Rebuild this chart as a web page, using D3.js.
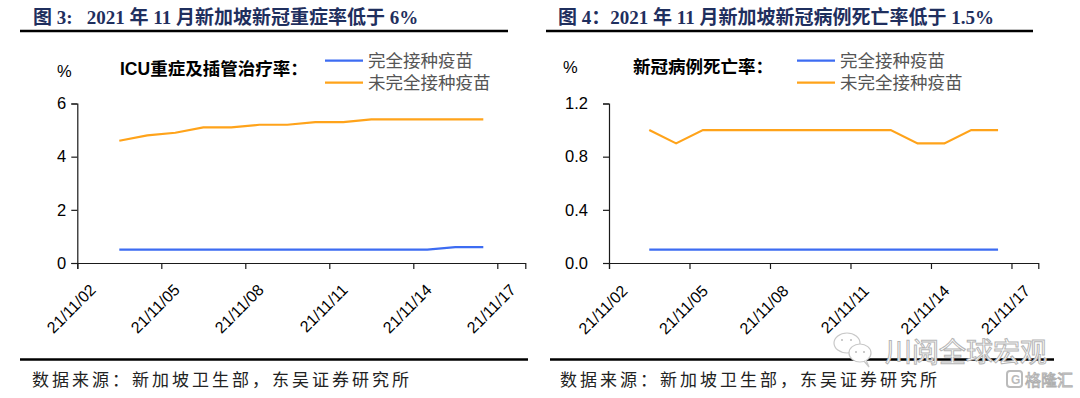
<!DOCTYPE html>
<html>
<head>
<meta charset="utf-8">
<script src="https://cdn.jsdelivr.net/npm/d3@7/dist/d3.min.js"></script>
<style>
  html, body { margin: 0; padding: 0; background: #fff; }
  svg { display: block; }
</style>
</head>
<body>
<div id="chart"></div>
<script>
// data
var tickLabels = ['21/11/02', '21/11/05', '21/11/08', '21/11/11', '21/11/14', '21/11/17'];
var obsDays = [3, 4, 5, 6, 7, 8, 9, 10, 11, 12, 13, 14, 15, 16];
var seriesNames = ['完全接种疫苗', '未完全接种疫苗'];
var icuVaccinated = [0.5, 0.5, 0.5, 0.5, 0.5, 0.5, 0.5, 0.5, 0.5, 0.5, 0.5, 0.5, 0.6, 0.6];
var icuUnvaccinated = [4.6, 4.8, 4.9, 5.1, 5.1, 5.2, 5.2, 5.3, 5.3, 5.4, 5.4, 5.4, 5.4, 5.4];
var deathVaccinated = [0.1, 0.1, 0.1, 0.1, 0.1, 0.1, 0.1, 0.1, 0.1, 0.1, 0.1, 0.1, 0.1, 0.1];
var deathUnvaccinated = [1.0, 0.9, 1.0, 1.0, 1.0, 1.0, 1.0, 1.0, 1.0, 1.0, 0.9, 0.9, 1.0, 1.0];
var icuTicks = [0, 2, 4, 6];
var deathTicks = [0, 0.4, 0.8, 1.2];

var width = 1080;
var height = 398;
var colors = ['#3d6cf2', '#ffa31a'];
var titleColor = '#1f2f5e';

var svg = d3.select('#chart').append('svg')
  .attr('width', width)
  .attr('height', height);

function drawPanel(o) {
  var g = svg.append('g');

  // title + rule
  g.append('text')
    .attr('x', o.titleX).attr('y', 24)
    .attr('fill', titleColor)
    .attr('font-family', '"Liberation Serif", "Noto Sans CJK SC", serif')
    .attr('font-weight', 'bold')
    .attr('font-size', '19px')
    .text(o.title);
  g.append('line')
    .attr('x1', o.ruleX[0]).attr('x2', o.ruleX[1])
    .attr('y1', 31).attr('y2', 31)
    .attr('stroke', '#000').attr('stroke-width', 2.5);

  // footer rule + source
  g.append('line')
    .attr('x1', o.footX[0]).attr('x2', o.footX[1])
    .attr('y1', 359.5).attr('y2', 359.5)
    .attr('stroke', '#000').attr('stroke-width', 2.5);
  g.append('text')
    .attr('x', o.footTextX).attr('y', 386)
    .attr('fill', '#222')
    .attr('font-family', '"Noto Sans CJK SC", sans-serif')
    .attr('font-size', '17px')
    .attr('letter-spacing', '3px')
    .text('数据来源：新加坡卫生部，东吴证券研究所');

  var x = d3.scaleLinear()
    .domain([2, 18])
    .range([o.x0, o.x1]);
  var y = d3.scaleLinear()
    .domain([0, o.yMax])
    .range([263, 103.5]);

  // y axis
  var yAxis = g.append('g')
    .attr('transform', 'translate(' + o.x0 + ',0)')
    .call(d3.axisLeft(y).tickValues(o.yTicks).tickFormat(d3.format(o.yFormat))
      .tickSizeOuter(0).tickSize(6).tickPadding(o.yPad));
  yAxis.selectAll('text')
    .attr('font-family', '"Liberation Sans", Arial, sans-serif')
    .attr('font-size', '16.5px')
    .attr('fill', '#000');

  // x axis, ticks at day boundaries
  var xAxis = g.append('g')
    .attr('transform', 'translate(0,' + y(0) + ')')
    .call(d3.axisBottom(x)
      .tickValues(tickLabels.map(function (s) { return +s.slice(6); }))
      .tickFormat(function (d) { return tickLabels.find(function (s) { return +s.slice(6) === d; }); })
      .tickSizeOuter(0).tickSize(6));
  xAxis.selectAll('text')
    .attr('font-family', '"Liberation Sans", Arial, sans-serif')
    .attr('font-size', '16px')
    .attr('fill', '#000')
    .attr('text-anchor', 'end')
    .attr('x', 0).attr('y', 0).attr('dy', 0)
    .attr('transform', 'translate(' + o.labDx + ',' + o.labDy + ') rotate(-45)');
  g.selectAll('.domain, .tick line').attr('stroke', '#1a1a1a').attr('stroke-width', 1.2);

  // lines, each point sits in the middle of its day slot
  var line = d3.line()
    .x(function (d, i) { return x(obsDays[i] + 0.5); })
    .y(function (d) { return y(d); });
  o.series.forEach(function (s, k) {
    g.append('path')
      .datum(s)
      .attr('fill', 'none')
      .attr('stroke', colors[k])
      .attr('stroke-width', 2.2)
      .attr('d', line);
  });

  // unit + subtitle
  g.append('text')
    .attr('x', o.pctX).attr('y', o.pctY)
    .attr('font-family', '"Liberation Sans", Arial, sans-serif')
    .attr('font-size', '16.5px')
    .attr('fill', '#000')
    .text('%');
  g.append('text')
    .attr('x', o.subX).attr('y', o.subY)
    .attr('font-family', '"Liberation Sans", "Noto Sans CJK SC", sans-serif')
    .attr('font-weight', 'bold')
    .attr('font-size', '17.5px')
    .attr('fill', '#000')
    .text(o.subtitle);

  // legend
  var leg = g.selectAll('.leg').data(seriesNames).join('g')
    .attr('transform', function (d, i) { return 'translate(' + o.legX + ',' + (60.7 + i * 22) + ')'; });
  leg.append('line')
    .attr('x1', 0).attr('x2', 38)
    .attr('stroke', function (d, i) { return colors[i]; })
    .attr('stroke-width', 2.2);
  leg.append('text')
    .attr('x', 43).attr('y', 6)
    .attr('font-family', '"Noto Sans CJK SC", sans-serif')
    .attr('font-size', '17.5px')
    .attr('fill', '#555')
    .text(function (d) { return d; });
}

drawPanel({
  title: '图 3:\u00a0\u00a0 2021 年 11 月新加坡新冠重症率低于 6%',
  titleX: 33, ruleX: [20, 508], footX: [20, 528], footTextX: 32,
  x0: 77.3, x1: 525.3, yMax: 6, yTicks: icuTicks, yFormat: 'd', yPad: 5,
  labDx: 19, labDy: 28,
  series: [icuVaccinated, icuUnvaccinated],
  pctX: 57, pctY: 77,
  subtitle: 'ICU重症及插管治疗率：', subX: 120, subY: 75,
  legX: 325
});

drawPanel({
  title: '图 4：2021 年 11 月新加坡新冠病例死亡率低于 1.5%',
  titleX: 558, ruleX: [546, 1033], footX: [550, 1054], footTextX: 560,
  x0: 609, x1: 1038.3, yMax: 1.2, yTicks: deathTicks, yFormat: '.1f', yPad: 15,
  labDx: 19, labDy: 29,
  series: [deathVaccinated, deathUnvaccinated],
  pctX: 563, pctY: 73,
  subtitle: '新冠病例死亡率：', subX: 633, subY: 73,
  legX: 797
});

// watermarks
var wm = svg.append('g').attr('fill', '#fff').attr('stroke', '#c8c8c8').attr('stroke-width', 1.2);
wm.append('ellipse').attr('cx', 847).attr('cy', 343).attr('rx', 13).attr('ry', 10);
wm.append('ellipse').attr('cx', 860).attr('cy', 353).attr('rx', 11).attr('ry', 9);
wm.append('path').attr('d', 'M864 361 L869 367 L866 360');
wm.selectAll('.dot').data([[842, 340], [851, 340], [856, 352], [864, 352]]).join('circle')
  .attr('cx', function (d) { return d[0]; }).attr('cy', function (d) { return d[1]; })
  .attr('r', 1).attr('fill', '#bbb').attr('stroke', 'none');
svg.append('text')
  .attr('x', 885).attr('y', 362)
  .attr('font-family', '"Noto Sans CJK SC", sans-serif')
  .attr('font-size', '27px')
  .attr('fill', '#fff')
  .attr('stroke', '#b5b5b5')
  .attr('stroke-width', 1)
  .text('川阅全球宏观');
svg.append('rect')
  .attr('x', 1007).attr('y', 371).attr('width', 15).attr('height', 16)
  .attr('rx', 3).attr('fill', 'none').attr('stroke', '#bbb').attr('stroke-width', 2);
svg.append('text')
  .attr('x', 1011).attr('y', 384)
  .attr('font-family', '"Liberation Sans", sans-serif')
  .attr('font-weight', 'bold')
  .attr('font-size', '12px')
  .attr('fill', '#bbb')
  .text('G');
svg.append('text')
  .attr('x', 1025).attr('y', 386)
  .attr('font-family', '"Noto Sans CJK SC", sans-serif')
  .attr('font-size', '16px')
  .attr('fill', '#fff')
  .attr('stroke', '#b0b0b0')
  .attr('stroke-width', 0.9)
  .text('格隆汇');
</script>
</body>
</html>
